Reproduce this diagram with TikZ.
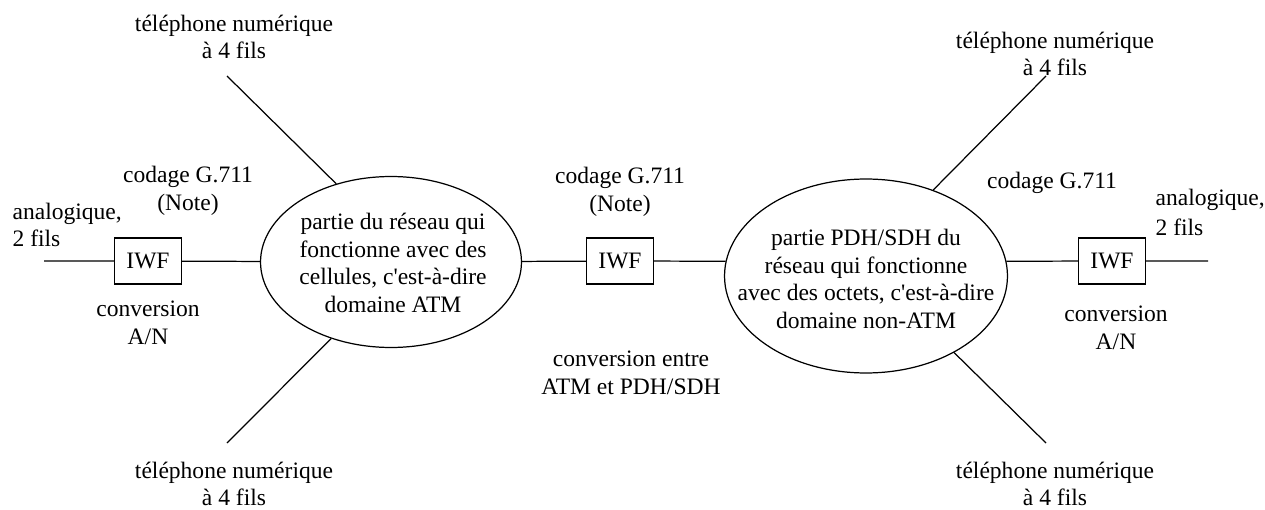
\documentclass[tikz,border=0pt]{standalone}
\usepackage{fontspec}
\setmainfont{Liberation Serif}[Ligatures=TeXOff]
\usetikzlibrary{shapes.geometric, positioning}
\tikzset{
	netpart/.style={draw, ellipse, inner sep=0pt},
	iwf/.style={draw, rectangle, inner sep=0pt, minimum width=1.34cm, minimum height=0.92cm},
	txt/.style={align=center, inner sep=0pt},
}

\begin{document}
\begin{tikzpicture}[x=0.02cm, y=-0.02cm, line width=0.7pt, font=\fontsize{13.4}{15.6}\selectfont]
	\useasboundingbox (0,0) rectangle (1265,510);

	% the two parts of the network
	\node (atm) [netpart, minimum width=5.22cm, minimum height=3.42cm] at (391,262) {};
	\node (pdh) [netpart, minimum width=5.66cm, minimum height=3.88cm] at (866,276) {};
	\node (atmText) [txt] at (393,263) {partie du réseau qui\\fonctionne avec des\\cellules, c'est-à-dire\\domaine ATM};
	\node (pdhText) [txt] at (866,279) {partie PDH/SDH du\\réseau qui fonctionne\\avec des octets, c'est-à-dire\\domaine non-ATM};

	% interworking functions
	\node (iwfL) [iwf] at (148,261) {IWF};
	\node (iwfM) [iwf] at (620,261) {IWF};
	\node (iwfR) [iwf] at (1112,261) {IWF};

	% loose ends
	\coordinate (anaInL) at (44,261);
	\coordinate (anaInR) at (1208,261);
	\coordinate (telEndTL) at (227,76);
	\coordinate (telEndBL) at (227,443);
	\coordinate (telEndTR) at (1046,76);
	\coordinate (telEndBR) at (1046,443);

	% labels
	\node (telTL) [txt] at (234,37) {téléphone numérique\\à 4 fils};
	\node (telBL) [txt] at (234,484) {téléphone numérique\\à 4 fils};
	\node (telTR) [txt] at (1055,54) {téléphone numérique\\à 4 fils};
	\node (telBR) [txt] at (1055,484) {téléphone numérique\\à 4 fils};
	\node (codL) [txt] at (188,191) {codage G.711\\(Note)};
	\node (anaL) [txt, align=left, anchor=west] at (12,225) {analogique,\\2 fils};
	\node (convL) [txt] at (148,323) {conversion\\A/N};
	\node (codM) [txt] at (620,192) {codage G.711\\(Note)};
	\node (convM) [txt] at (631,373) {conversion entre\\ATM et PDH/SDH};
	\node (codR) [txt] at (1052,183) {codage G.711};
	\node (anaR) [txt, align=left, anchor=west] at (1155,212) {analogique,\\[1.5pt]2 fils};
	\node (convR) [txt] at (1116,328) {conversion\\A/N};

	\begin{scope}[black]
		\draw (anaInL) -- (iwfL) -- (atm);
		\draw (atm) -- (iwfM) -- (pdh.174);
		\draw (pdh.6) -- (iwfR) -- (anaInR);
		\draw (telEndTL) -- (atm.125);
		\draw (telEndBL) -- (atm.232);
		\draw (telEndTR) -- (pdh.52);
		\draw (telEndBR) -- (pdh.319);
	\end{scope}
\end{tikzpicture}
\end{document}
